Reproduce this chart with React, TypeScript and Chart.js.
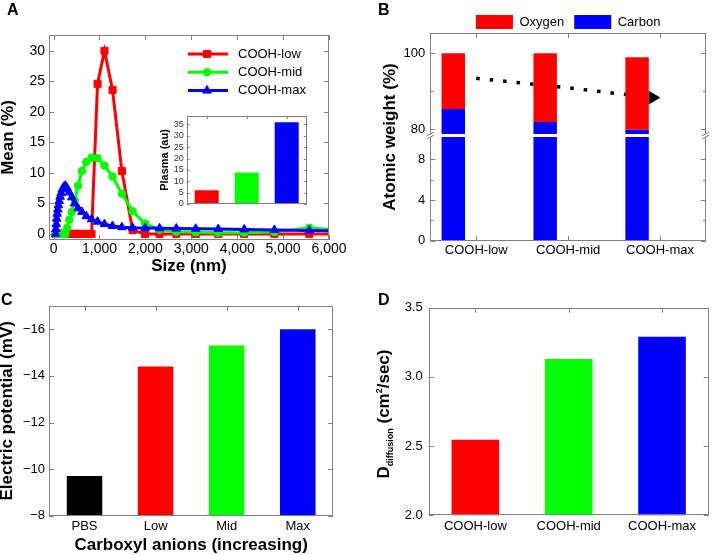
import React, { useEffect, useRef } from 'react';
import { Chart, registerables, LinearScale } from 'chart.js';
import { drawPoint } from 'chart.js/helpers';

Chart.register(...registerables);

const FONT = "'Liberation Sans', Arial, Helvetica, sans-serif";
Chart.defaults.font.family = FONT;
Chart.defaults.color = '#000';

// ---------- Panel A: size distribution ----------
const SIZE_NM = [44, 51, 59, 68, 79, 92, 106, 123, 142, 165, 191, 221, 256, 296, 343, 397, 460, 532, 617, 714, 827, 958, 1109, 1284, 1487, 1722, 1994, 2309, 2674, 3097, 3587, 4153, 4810, 5571, 6452];
const MEAN_LOW = [0, 0, 0, 0, 0, 0, 0, 0, 0, 0, 0, 0, 0, 0, 0, 0, 0, 0, 0, 0, 0, 24.6, 30.0, 23.6, 10.3, 0.6, 0, 0, 0, 0, 0, 0, 0, 0, 0];
const MEAN_MID = [0, 0, 0, 0, 0, 0, 0, 0, 0, 0, 0, 0, 0, 1.0, 2.3, 3.6, 5.5, 7.9, 10.3, 11.8, 12.5, 12.4, 11.2, 9.4, 6.6, 3.7, 1.7, 0.7, 0.35, 0.25, 0.2, 0.2, 0.3, 1.0, 0.4];
const MEAN_MAX = [0, 0.8, 1.6, 2.5, 3.3, 4.0, 4.7, 5.4, 6.1, 6.7, 7.3, 7.7, 7.9, 7.5, 6.8, 6.0, 5.0, 4.2, 3.6, 2.9, 2.4, 2.0, 1.6, 1.3, 1.1, 1.0, 0.95, 0.92, 0.88, 0.84, 0.8, 0.74, 0.65, 0.55, 0.45];
const SERIES_A = ['COOH-low', 'COOH-mid', 'COOH-max'];
const SIZE_TICKS = [0, 1000, 2000, 3000, 4000, 5000, 6000];
const MEAN_TICKS = [0, 5, 10, 15, 20, 25, 30];

// ---------- Inset: plasma ----------
const PLASMA_GROUPS = ['COOH-low', 'COOH-mid', 'COOH-max'];
const PLASMA = [6.0, 13.9, 36.0];
const PLASMA_TICKS = [0, 5, 10, 15, 20, 25, 30, 35];

// ---------- Panel B: atomic weight ----------
const GROUPS = ['COOH-low', 'COOH-mid', 'COOH-max'];
const CARBON = [85.3, 81.9, 79.8];
const OXYGEN = [14.7, 18.1, 19.2];
const TREND_X = [0, 1, 1.92];
const TREND_Y = [93.4, 90.9, 88.3];
const ATOMIC_TICKS = [0, 4, 8, 80, 100];
const ATOMIC_MINOR = [2, 6, 90];

// ---------- Panel C: electric potential ----------
const ANIONS = ['PBS', 'Low', 'Mid', 'Max'];
const POTENTIAL = [-9.7, -14.4, -15.3, -16.0];
const POTENTIAL_TICKS = [-16, -14, -12, -10, -8];

// ---------- Panel D: diffusion ----------
const DIFFUSION = [2.545, 3.13, 3.29];
const DIFFUSION_TICKS = [2.0, 2.5, 3.0, 3.5];

const RED = '#ff0000';
const GREEN = '#00ff00';
const BLUE = '#0000ff';
const FRAME = '#808080';

// broken axis (panel B)
const BRK_LOW = 10.2;
const BRK_HIGH = 78.7;
const BRK_F1 = 0.5;
const BRK_F2 = 0.5145;

class BrokenLinearScale extends (LinearScale as any) {
  static id = 'brokenLinear';
  static defaults = (LinearScale as any).defaults;
  toDecimal(v: number) {
    const min = (this as any).min;
    const max = (this as any).max;
    if (v <= BRK_LOW) return ((v - min) / (BRK_LOW - min)) * BRK_F1;
    if (v >= BRK_HIGH) return BRK_F2 + ((v - BRK_HIGH) / (max - BRK_HIGH)) * (1 - BRK_F2);
    return BRK_F1 + ((v - BRK_LOW) / (BRK_HIGH - BRK_LOW)) * (BRK_F2 - BRK_F1);
  }
  getPixelForValue(v: any) {
    if (v === null || v === undefined || Number.isNaN(+v)) return NaN;
    return (this as any).getPixelForDecimal(this.toDecimal(+v));
  }
  getValueForPixel(p: number) {
    const d = (this as any).getDecimalForPixel(p);
    const min = (this as any).min;
    const max = (this as any).max;
    if (d <= BRK_F1) return min + (d / BRK_F1) * (BRK_LOW - min);
    if (d >= BRK_F2) return BRK_HIGH + ((d - BRK_F2) / (1 - BRK_F2)) * (max - BRK_HIGH);
    return BRK_LOW + ((d - BRK_F1) / (BRK_F2 - BRK_F1)) * (BRK_HIGH - BRK_LOW);
  }
}
Chart.register(BrokenLinearScale as any);

function makeFrame(o: { minorY?: number[]; broken?: boolean; tickLen?: number; bg?: boolean } = {}) {
  const len = o.tickLen ?? 5;
  return {
    id: 'frame',
    beforeDatasetsDraw(chart: any) {
      const { ctx, chartArea } = chart;
      const { left, right, top, bottom } = chartArea;
      if (o.bg) {
        ctx.save();
        ctx.fillStyle = '#fff';
        ctx.fillRect(left, top, right - left, bottom - top);
        ctx.restore();
      }
      const xs = chart.scales.x;
      const ys = chart.scales.y;
      ctx.save();
      ctx.strokeStyle = FRAME;
      ctx.lineWidth = 1;
      ctx.beginPath();
      xs.ticks.forEach((_t: any, i: number) => {
        const p = Math.round(xs.getPixelForTick(i)) + 0.5;
        ctx.moveTo(p, bottom);
        ctx.lineTo(p, bottom - len);
        ctx.moveTo(p, top);
        ctx.lineTo(p, top + len);
      });
      ys.ticks.forEach((_t: any, i: number) => {
        const p = Math.round(ys.getPixelForTick(i)) + 0.5;
        ctx.moveTo(left, p);
        ctx.lineTo(left + len, p);
        ctx.moveTo(right, p);
        ctx.lineTo(right - len, p);
      });
      (o.minorY || []).forEach((v) => {
        const p = Math.round(ys.getPixelForValue(v)) + 0.5;
        ctx.moveTo(left, p);
        ctx.lineTo(left + len * 0.6, p);
        ctx.moveTo(right, p);
        ctx.lineTo(right - len * 0.6, p);
      });
      ctx.stroke();
      ctx.restore();
    },
    afterDatasetsDraw(chart: any) {
      const { ctx, chartArea } = chart;
      const l = Math.round(chartArea.left) + 0.5;
      const r = Math.round(chartArea.right) - 0.5;
      const t = Math.round(chartArea.top) + 0.5;
      const b = Math.round(chartArea.bottom) - 0.5;
      ctx.save();
      ctx.strokeStyle = FRAME;
      ctx.lineWidth = 1;
      ctx.strokeRect(l, t, r - l, b - t);
      if (o.broken) {
        const ys = chart.scales.y;
        const yLo = ys.getPixelForValue(BRK_LOW);
        const yHi = ys.getPixelForValue(BRK_HIGH);
        ctx.fillStyle = '#fff';
        ctx.fillRect(l - 6, yHi, r - l + 12, yLo - yHi);
        ctx.beginPath();
        [l, r].forEach((x) => {
          [yHi, yLo].forEach((y) => {
            ctx.moveTo(x - 3.5, y + 1.8);
            ctx.lineTo(x + 3.5, y - 1.8);
          });
        });
        ctx.stroke();
      }
      ctx.restore();
    },
  };
}

// keeps panel B's legend compact (rows start 10px below its top, plot starts right under)
function legendHeight(h: number) {
  return {
    id: 'legendHeight',
    beforeLayout(chart: any) {
      const lg = chart.legend;
      if (lg && !lg.__patched) {
        const orig = lg.fit.bind(lg);
        lg.fit = () => {
          orig();
          lg.height = h;
        };
        lg.__patched = true;
      }
    },
  };
}

const lineLegend = {
  id: 'lineLegend',
  afterDatasetsDraw(chart: any) {
    const ctx = chart.ctx;
    chart.data.datasets.forEach((ds: any, i: number) => {
      const y = 54 + i * 18.3;
      ctx.save();
      ctx.strokeStyle = ds.borderColor;
      ctx.lineWidth = 3;
      ctx.beginPath();
      ctx.moveTo(188, y);
      ctx.lineTo(228, y);
      ctx.stroke();
      ctx.fillStyle = ds.backgroundColor;
      ctx.lineWidth = 1;
      drawPoint(ctx, { pointStyle: ds.pointStyle, radius: ds.pointRadius, rotation: 0, borderWidth: 1 } as any, 207, y);
      ctx.fillStyle = '#000';
      ctx.font = `13px ${FONT}`;
      ctx.textBaseline = 'middle';
      ctx.textAlign = 'left';
      ctx.fillText(ds.label, 238, y);
      ctx.restore();
    });
  },
};

const diffusionTitle = {
  id: 'dtitle',
  afterDraw(chart: any) {
    const ctx = chart.ctx;
    const big = `bold 17px ${FONT}`;
    const sub = `bold 9px ${FONT}`;
    const parts = [
      { t: 'D', f: big, dy: 0 },
      { t: 'diffusion', f: sub, dy: 3.5 },
      { t: ' (cm', f: big, dy: 0 },
      { t: '2', f: sub, dy: -7 },
      { t: '/sec)', f: big, dy: 0 },
    ];
    ctx.save();
    let total = 0;
    const widths = parts.map((p) => {
      ctx.font = p.f;
      const w = ctx.measureText(p.t).width;
      total += w;
      return w;
    });
    ctx.translate(32, 139);
    ctx.rotate(-Math.PI / 2);
    ctx.fillStyle = '#000';
    ctx.textBaseline = 'alphabetic';
    ctx.textAlign = 'left';
    let x = -total / 2;
    parts.forEach((p, i) => {
      ctx.font = p.f;
      ctx.fillText(p.t, x, p.dy);
      x += widths[i];
    });
    ctx.restore();
  },
};

const noGrid = { display: false, drawTicks: false };
const noBorder = { display: false };

function yFit(width: number, padTop = 0) {
  return (s: any) => {
    s.width = width;
    s.paddingTop = padTop;
    s.paddingBottom = 0;
  };
}
function xFit(height: number) {
  return (s: any) => {
    s.height = height;
    s.paddingLeft = 0;
    s.paddingRight = 0;
  };
}
function setTicks(values: number[]) {
  return (s: any) => {
    s.ticks = values.map((v) => ({ value: v }));
  };
}

const commonOpts = {
  responsive: false,
  animation: false as const,
  events: [] as any[],
};

export default function App() {
  const refA = useRef<HTMLCanvasElement>(null);
  const refI = useRef<HTMLCanvasElement>(null);
  const refB = useRef<HTMLCanvasElement>(null);
  const refC = useRef<HTMLCanvasElement>(null);
  const refD = useRef<HTMLCanvasElement>(null);

  useEffect(() => {
    const charts: Chart[] = [];

    // Panel A
    const colorsA = [RED, GREEN, BLUE];
    const seriesA = [MEAN_LOW, MEAN_MID, MEAN_MAX];
    const stylesA = ['rect', 'circle', 'triangle'];
    const radiiA = [5, 3.8, 5];
    charts.push(
      new Chart(refA.current!, {
        type: 'line',
        data: {
          datasets: seriesA.map((vals, k) => ({
            label: SERIES_A[k],
            data: SIZE_NM.map((x, i) => ({ x, y: vals[i] })),
            borderColor: colorsA[k],
            backgroundColor: colorsA[k],
            pointBackgroundColor: colorsA[k],
            pointBorderColor: colorsA[k],
            borderWidth: 3,
            pointStyle: stylesA[k],
            pointRadius: radiiA[k],
            pointBorderWidth: 1,
            tension: 0,
            order: 3 - k,
          })),
        },
        options: {
          ...commonOpts,
          layout: { padding: { left: 0, right: 28, top: 35, bottom: 0 } },
          plugins: { legend: { display: false }, tooltip: { enabled: false } },
          scales: {
            x: {
              type: 'linear',
              min: -100,
              max: 6000,
              grid: noGrid,
              border: noBorder,
              afterBuildTicks: setTicks(SIZE_TICKS),
              afterFit: xFit(40),
              ticks: {
                padding: 1,
                autoSkip: false,
                maxRotation: 0,
                font: { size: 14 },
                color: '#000',
                callback: (v: any) => Number(v).toLocaleString('en-US'),
              },
              title: { display: true, text: 'Size (nm)', font: { size: 17, weight: 'bold' }, padding: { top: 0, bottom: 3 } },
            },
            y: {
              type: 'linear',
              min: -1,
              max: 32.6,
              grid: noGrid,
              border: noBorder,
              afterBuildTicks: setTicks(MEAN_TICKS),
              afterFit: yFit(49),
              ticks: { padding: 4, autoSkip: false, font: { size: 14 }, color: '#000', callback: (v: any) => String(v) },
              title: { display: true, text: 'Mean (%)', font: { size: 17, weight: 'bold' }, padding: { top: -2, bottom: 0 } },
            },
          },
        } as any,
        plugins: [makeFrame(), lineLegend],
      })
    );

    // Inset
    charts.push(
      new Chart(refI.current!, {
        type: 'bar',
        data: {
          labels: PLASMA_GROUPS,
          datasets: [
            {
              label: 'Plasma',
              data: PLASMA,
              backgroundColor: [RED, GREEN, BLUE],
              borderWidth: 0,
              barPercentage: 0.6,
              categoryPercentage: 1,
            },
          ],
        },
        options: {
          ...commonOpts,
          layout: { padding: { left: 0, right: 8.3, top: 11, bottom: 0 } },
          plugins: { legend: { display: false }, tooltip: { enabled: false } },
          scales: {
            x: {
              type: 'category',
              grid: noGrid,
              border: noBorder,
              afterFit: xFit(11),
              ticks: { display: false },
            },
            y: {
              type: 'linear',
              min: 0,
              max: 38.7,
              grid: noGrid,
              border: noBorder,
              afterBuildTicks: setTicks(PLASMA_TICKS),
              afterFit: yFit(36.7),
              ticks: { padding: 3, autoSkip: false, font: { size: 9, lineHeight: 1 }, color: '#333', callback: (v: any) => String(v) },
              title: { display: true, text: 'Plasma (au)', font: { size: 11, weight: 'bold' }, padding: { top: 8.7, bottom: 0 } },
            },
          },
        } as any,
        plugins: [makeFrame({ tickLen: 3, bg: true })],
      })
    );

    // Panel B
    charts.push(
      new Chart(refB.current!, {
        type: 'bar',
        data: {
          labels: GROUPS,
          datasets: [
            { type: 'bar', label: 'Carbon', data: CARBON, backgroundColor: BLUE, borderWidth: 0, barPercentage: 0.51, categoryPercentage: 1 },
            { type: 'bar', label: 'Oxygen', data: OXYGEN, backgroundColor: RED, borderWidth: 0, barPercentage: 0.51, categoryPercentage: 1 },
            {
              type: 'line',
              label: 'trend',
              xAxisID: 'xt',
              data: TREND_X.map((x, i) => ({ x, y: TREND_Y[i] })),
              borderColor: '#000',
              backgroundColor: '#000',
              borderWidth: 3.5,
              borderDash: [3.5, 10],
              pointRadius: (c: any) => (c.dataIndex === TREND_X.length - 1 ? 7 : 0),
              pointStyle: 'triangle',
              pointRotation: 90,
              pointBackgroundColor: '#000',
              pointBorderColor: '#000',
              pointBorderWidth: 1,
              tension: 0,
            } as any,
          ],
        },
        options: {
          ...commonOpts,
          layout: { padding: { left: 0, right: 4.7, top: 5, bottom: 0 } },
          plugins: {
            tooltip: { enabled: false },
            legend: {
              display: true,
              position: 'top',
              fullSize: false,
              reverse: true,
              labels: {
                boxWidth: 37,
                boxHeight: 14,
                padding: 10,
                color: '#000',
                font: { size: 13 },
                filter: (item: any) => item.datasetIndex < 2,
              },
            },
          },
          scales: {
            x: {
              type: 'category',
              stacked: true,
              grid: noGrid,
              border: noBorder,
              afterFit: xFit(34.3),
              ticks: { padding: 2.2, font: { size: 13 }, color: '#000' },
            },
            xt: { type: 'linear', display: false, offset: false, min: -0.5, max: 2.5, grid: { offset: false } },
            y: {
              type: 'brokenLinear',
              stacked: true,
              min: 0,
              max: 105.3,
              grid: noGrid,
              border: noBorder,
              afterBuildTicks: setTicks(ATOMIC_TICKS),
              afterFit: yFit(73.3, 0),
              ticks: { padding: 5, autoSkip: false, font: { size: 13 }, color: '#000', callback: (v: any) => String(v) },
              title: { display: true, text: 'Atomic weight (%)', font: { size: 17, weight: 'bold' }, padding: { top: 23, bottom: 0 } },
            },
          },
        } as any,
        plugins: [makeFrame({ minorY: ATOMIC_MINOR, broken: true }), legendHeight(28.3)],
      })
    );

    // Panel C
    charts.push(
      new Chart(refC.current!, {
        type: 'bar',
        data: {
          labels: ANIONS,
          datasets: [
            {
              label: 'Electric potential',
              data: POTENTIAL,
              backgroundColor: ['#000000', RED, GREEN, BLUE],
              borderWidth: 0,
              barPercentage: 0.5,
              categoryPercentage: 1,
            },
          ],
        },
        options: {
          ...commonOpts,
          layout: { padding: { left: 0, right: 23.7, top: 31, bottom: 0 } },
          plugins: { legend: { display: false }, tooltip: { enabled: false } },
          scales: {
            x: {
              type: 'category',
              grid: noGrid,
              border: noBorder,
              afterFit: xFit(39.3),
              ticks: { padding: 3.2, font: { size: 13 }, color: '#000' },
              title: { display: true, text: 'Carboxyl anions (increasing)', font: { size: 17, weight: 'bold' }, padding: { top: 0, bottom: -1 } },
            },
            y: {
              type: 'linear',
              min: -17,
              max: -8,
              reverse: true,
              grid: noGrid,
              border: noBorder,
              afterBuildTicks: setTicks(POTENTIAL_TICKS),
              afterFit: yFit(49),
              ticks: {
                padding: 4,
                autoSkip: false,
                font: { size: 13 },
                color: '#000',
                callback: (v: any) => (Number(v) < 0 ? '\u2212' + Math.abs(Number(v)) : String(v)),
              },
              title: { display: true, text: 'Electric potential (mV)', font: { size: 17, weight: 'bold' }, padding: { top: -3, bottom: 0 } },
            },
          },
        } as any,
        plugins: [makeFrame()],
      })
    );

    // Panel D
    charts.push(
      new Chart(refD.current!, {
        type: 'bar',
        data: {
          labels: GROUPS,
          datasets: [
            {
              label: 'D diffusion',
              data: DIFFUSION,
              backgroundColor: [RED, GREEN, BLUE],
              borderWidth: 0,
              barPercentage: 0.51,
              categoryPercentage: 1,
            },
          ],
        },
        options: {
          ...commonOpts,
          layout: { padding: { left: 0, right: 5.3, top: 32.7, bottom: 0 } },
          plugins: { legend: { display: false }, tooltip: { enabled: false } },
          scales: {
            x: {
              type: 'category',
              grid: noGrid,
              border: noBorder,
              afterFit: xFit(39.7),
              ticks: { padding: 3.6, font: { size: 13 }, color: '#000' },
            },
            y: {
              type: 'linear',
              min: 2,
              max: 3.5,
              grid: noGrid,
              border: noBorder,
              afterBuildTicks: setTicks(DIFFUSION_TICKS),
              afterFit: yFit(71.7),
              ticks: { padding: 6, autoSkip: false, font: { size: 13 }, color: '#000', callback: (v: any) => Number(v).toFixed(1) },
            },
          },
        } as any,
        plugins: [makeFrame(), diffusionTitle],
      })
    );

    return () => charts.forEach((c) => c.destroy());
  }, []);

  const letter = (t: string, left: number, top: number) => (
    <div
      style={{
        position: 'absolute',
        left,
        top,
        font: `bold 16px ${FONT}`,
        lineHeight: '16px',
        color: '#000',
      }}
    >
      {t}
    </div>
  );

  return (
    <div
      style={{
        position: 'fixed',
        left: 0,
        top: 0,
        width: 714,
        height: 555,
        background: '#fff',
        overflow: 'hidden',
      }}
    >
      <canvas ref={refA} width={357} height={280} style={{ position: 'absolute', left: 0, top: 0 }} />
      <canvas ref={refC} width={357} height={280} style={{ position: 'absolute', left: 0, top: 275 }} />
      <canvas ref={refB} width={357} height={275} style={{ position: 'absolute', left: 357, top: 0 }} />
      <canvas ref={refD} width={357} height={280} style={{ position: 'absolute', left: 357, top: 275 }} />
      <canvas ref={refI} width={165} height={110} style={{ position: 'absolute', left: 150, top: 105 }} />
      {letter('A', 7, 1.5)}
      {letter('B', 378, 1.5)}
      {letter('C', 1, 291.5)}
      {letter('D', 378, 291.5)}
    </div>
  );
}
